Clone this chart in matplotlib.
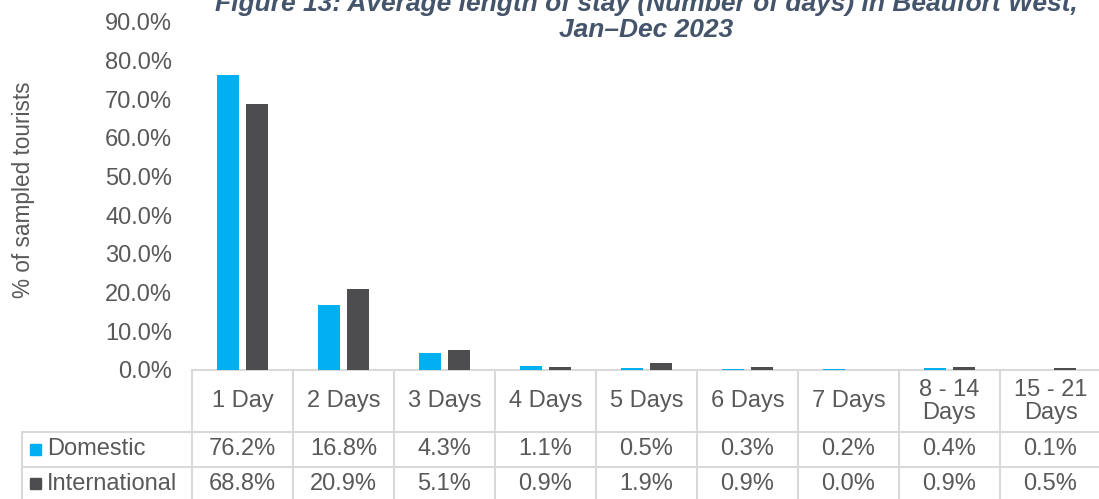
import matplotlib
matplotlib.use("Agg")
import matplotlib.pyplot as plt
from matplotlib.transforms import blended_transform_factory
from matplotlib.patches import Rectangle

plt.rcParams['font.family'] = ['Liberation Sans', 'DejaVu Sans']

categories = ["1 Day", "2 Days", "3 Days", "4 Days", "5 Days", "6 Days", "7 Days",
              "8 - 14\nDays", "15 - 21\nDays"]
domestic = [76.2, 16.8, 4.3, 1.1, 0.5, 0.3, 0.2, 0.4, 0.1]
international = [68.8, 20.9, 5.1, 0.9, 1.9, 0.9, 0.0, 0.9, 0.5]
series_names = ["Domestic", "International"]
colors = ["#00B0F0", "#4D4D4F"]
title_lines = ["Figure 13: Average length of stay (Number of days) in Beaufort West,",
               "Jan\u2013Dec 2023"]
ylabel = "% of sampled tourists"
yticks = [0, 10, 20, 30, 40, 50, 60, 70, 80, 90]

W, H = 1099, 499
fig = plt.figure(figsize=(W / 100, H / 100), dpi=100)

# pixel layout
ax_left, ax_right, ax_top, ax_bottom = 192, 1101, 22, 370
ax = fig.add_axes([ax_left / W, 1 - ax_bottom / H, (ax_right - ax_left) / W,
                   (ax_bottom - ax_top) / H])
txt_col = "#595959"
grid_col = "#D9D9D9"
fs = 17

n = len(categories)
x = list(range(n))
bw = 0.225
off = 0.144
ax.bar([i - off for i in x], domestic, width=bw, color=colors[0], zorder=3)
ax.bar([i + off for i in x], international, width=bw, color=colors[1], zorder=3)
ax.set_xlim(-0.5, n - 0.5)
ax.set_ylim(0, 90)
ax.set_yticks(yticks)
ax.set_yticklabels([f"{v:.1f}%" for v in yticks], fontsize=fs, color=txt_col)
ax.tick_params(axis='y', length=0, pad=14.4)
ax.set_xticks([])
for s in ax.spines.values():
    s.set_visible(False)
ax.patch.set_alpha(0)

# overlay in figure pixels
tab = fig.add_axes([0, 0, 1, 1], zorder=-1)
tab.set_xlim(0, W)
tab.set_ylim(H, 0)
tab.axis('off')
tab.patch.set_alpha(0)
bt = blended_transform_factory(ax.transData, tab.transData)

# y label
tab.text(24, 190, ylabel, rotation=90, ha='center', va='center', fontsize=16.3, color=txt_col)

# title
cx = (ax_left + ax_right) / 2
tab.text(cx, 11, title_lines[0], ha='center', va='baseline', fontsize=19,
         fontweight='bold', fontstyle='italic', color="#44546A")
tab.text(cx, 37, title_lines[1], ha='center', va='baseline', fontsize=19,
         fontweight='bold', fontstyle='italic', color="#44546A")

# table
y_top, y_r1, y_r2, y_r3 = 369.5, 431.5, 466.5, 502
leg_left = 22
lw = 1.5
# horizontal lines
tab.plot([-0.5, n - 0.5], [y_top, y_top], color=grid_col, lw=lw, transform=bt, clip_on=False)
for yy in (y_r1, y_r2):
    tab.plot([-0.5, n - 0.5], [yy, yy], color=grid_col, lw=lw, transform=bt, clip_on=False)
    tab.plot([leg_left, ax_left], [yy, yy], color=grid_col, lw=lw, clip_on=False)
# vertical lines
for i in range(n + 1):
    tab.plot([i - 0.5, i - 0.5], [y_top, y_r3], color=grid_col, lw=lw, transform=bt, clip_on=False)
tab.plot([leg_left, leg_left], [y_r1, y_r3], color=grid_col, lw=lw, clip_on=False)

# header
for i, c in enumerate(categories):
    tab.text(i, (y_top + y_r1) / 2 + 1, c, transform=bt, ha='center', va='center',
             fontsize=fs, color=txt_col, linespacing=1.05)
# rows
rows = [domestic, international]
row_centers = [(y_r1 + y_r2) / 2, (y_r2 + 501) / 2]
for r, (vals, yc) in enumerate(zip(rows, row_centers)):
    for i, v in enumerate(vals):
        tab.text(i, yc, f"{v:.1f}%", transform=bt, ha='center', va='center',
                 fontsize=fs, color=txt_col)
    tab.add_patch(Rectangle((30, yc - 5.5), 11, 11, color=colors[r]))
    tab.text(47, yc, series_names[r], ha='left', va='center', fontsize=fs, color=txt_col)

fig.savefig("out.png", dpi=100)
